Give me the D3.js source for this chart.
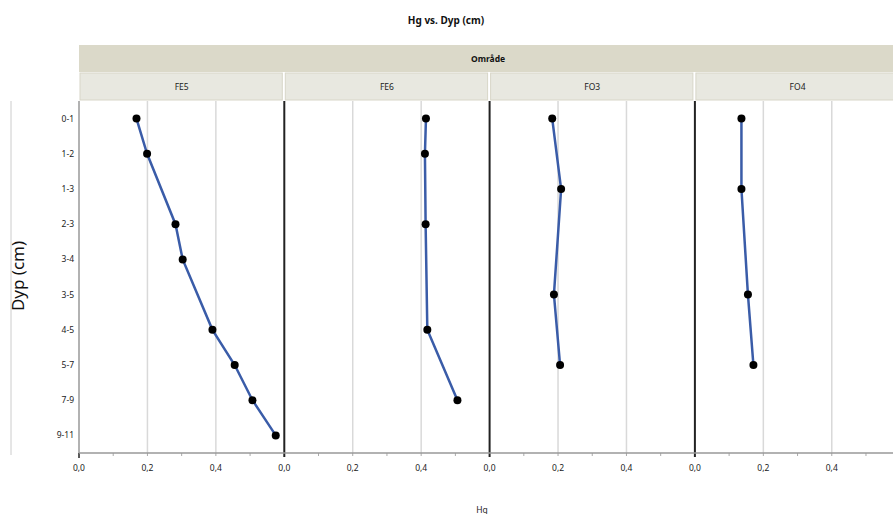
<!DOCTYPE html>
<html><head><meta charset="utf-8">
<script src="https://cdn.jsdelivr.net/npm/d3@7"></script>
<style>body{margin:0;background:#fff}svg{display:block}text{font-family:"Noto Sans","Open Sans",sans-serif}</style>
</head><body><svg id="c" width="893" height="514"></svg>
<script>
const depths = ["0-1","1-2","1-3","2-3","3-4","3-5","4-5","5-7","7-9","9-11"];
const areas = ["FE5","FE6","FO3","FO4"];
const fe5 = [["0-1",0.168],["1-2",0.199],["2-3",0.282],["3-4",0.303],["4-5",0.390],["5-7",0.455],["7-9",0.507],["9-11",0.575]];
const fe6 = [["0-1",0.414],["1-2",0.411],["2-3",0.413],["4-5",0.418],["7-9",0.506]];
const fo3 = [["0-1",0.183],["1-3",0.209],["3-5",0.188],["5-7",0.206]];
const fo4 = [["0-1",0.136],["1-3",0.136],["3-5",0.155],["5-7",0.171]];
const seriesData = [fe5, fe6, fo3, fo4];
const xTicks = [0, 0.2, 0.4];
const xMinor = [0.1, 0.3, 0.5];

const svg = d3.select("#c");
const pLeft = 79, pTop = 101, pBottom = 453, pw = 205.3;
const y = d3.scalePoint().domain(depths).range([pTop, pBottom]).padding(0.5);
const fmt = v => d3.format(".1f")(v).replace(".", ",");

svg.append("text").attr("x", 446).attr("y", 24).attr("text-anchor","middle")
  .attr("font-size", 10).attr("font-weight","bold").attr("fill","#111").text("Hg vs. Dyp (cm)");

svg.append("rect").attr("x", pLeft).attr("y", 45).attr("width", 893-pLeft).attr("height", 27).attr("fill","#dbd9c9");
svg.append("text").attr("x", 488).attr("y", 62).attr("text-anchor","middle")
  .attr("font-size", 8.5).attr("font-weight","bold").attr("fill","#111").text("Område");

svg.append("line").attr("x1",11).attr("x2",11).attr("y1",pTop).attr("y2",455).attr("stroke","#ccc");
svg.append("text").attr("transform","translate(24,276) rotate(-90)").attr("text-anchor","middle")
  .attr("font-size", 17).attr("fill","#111").text("Dyp (cm)");

svg.append("g").selectAll("text").data(depths).join("text")
  .attr("x", 74).attr("y", d => y(d)+3).attr("text-anchor","end")
  .attr("font-size", 8.5).attr("fill","#222").text(d => d);

areas.forEach((a, i) => {
  const x0 = pLeft + i*pw;
  const x = d3.scaleLinear().domain([0, 0.6]).range([x0, x0+pw]);
  svg.append("rect").attr("x", x0+1).attr("y", 73).attr("width", pw-3).attr("height", 27)
    .attr("fill","#e8e8e0").attr("stroke","#d8d6c8").attr("stroke-width",1);
  svg.append("text").attr("x", x0+pw/2).attr("y", 90).attr("text-anchor","middle")
    .attr("font-size", 8.5).attr("fill","#222").text(a);
  svg.append("g").selectAll("line").data(xTicks.slice(1)).join("line")
    .attr("x1", d => x(d)).attr("x2", d => x(d)).attr("y1", pTop).attr("y2", pBottom)
    .attr("stroke","#d9d9d9").attr("stroke-width",1.5);
  svg.append("line").attr("x1", x(0)).attr("x2", x(0)).attr("y1", pTop).attr("y2", pBottom+(i===0?0:4))
    .attr("stroke", i===0 ? "#999" : "#222").attr("stroke-width", i===0 ? 1.5 : 2);
  svg.append("g").selectAll("line").data(xMinor.concat(xTicks.slice(1))).join("line")
    .attr("x1", d => x(d)).attr("x2", d => x(d)).attr("y1", pBottom).attr("y2", pBottom+3)
    .attr("stroke","#aaa");
  svg.append("g").selectAll("text").data(xTicks).join("text")
    .attr("x", d => x(d)).attr("y", 471).attr("text-anchor","middle")
    .attr("font-size", 8.5).attr("fill","#222").text(fmt);
  const data = seriesData[i];
  svg.append("path").datum(data)
    .attr("d", d3.line().x(d => x(d[1])).y(d => y(d[0])))
    .attr("fill","none").attr("stroke","#3a5ca8").attr("stroke-width",2.5);
  svg.append("g").selectAll("circle").data(data).join("circle")
    .attr("cx", d => x(d[1])).attr("cy", d => y(d[0])).attr("r", 4).attr("fill","#000");
});
svg.append("line").attr("x1", 79).attr("x2", 79).attr("y1", pBottom).attr("y2", pBottom+5).attr("stroke","#222").attr("stroke-width",1.5);
svg.append("line").attr("x1", pLeft).attr("x2", 893).attr("y1", pBottom).attr("y2", pBottom).attr("stroke","#999").attr("stroke-width",1.5);

svg.append("text").attr("x", 482).attr("y", 513).attr("text-anchor","middle")
  .attr("font-size", 8.5).attr("fill","#222").text("Hg");
</script></body></html>
